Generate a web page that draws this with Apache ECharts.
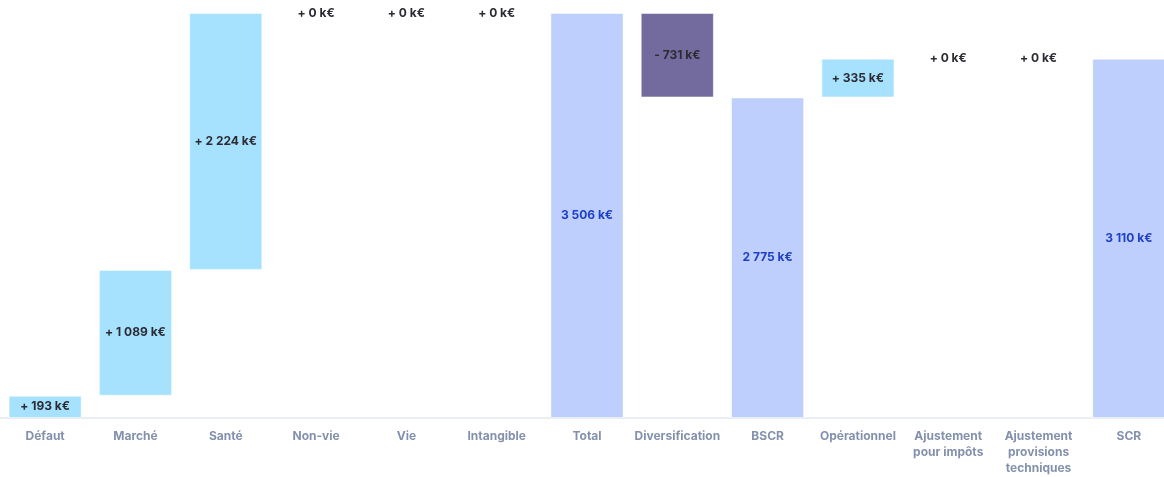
<!DOCTYPE html>
<html><head><meta charset="utf-8">
<script src="https://cdn.jsdelivr.net/npm/echarts@6/dist/echarts.min.js"></script>
<style>html,body{margin:0;padding:0;background:#fff;overflow:hidden}#c{width:1174px;height:477px}</style>
</head><body><div id="c"></div>
<script>
const categories = ['Défaut','Marché','Santé','Non-vie','Vie','Intangible','Total','Diversification','BSCR','Opérationnel','Ajustement\npour impôts','Ajustement\nprovisions\ntechniques','SCR'];
const values = [193, 1089, 2224, 0, 0, 0, 3506, -731, 2775, 335, 0, 0, 3110];
const kinds = ['inc','inc','inc','inc','inc','inc','total','inc','total','inc','inc','inc','total'];

function fmt(v){
  const s = Math.abs(v).toString().replace(/\B(?=(\d{3})+(?!\d))/g,' ');
  return s + ' k€';
}
const baseData = [], valData = [];
let running = 0;
values.forEach((v,i)=>{
  if (kinds[i]==='total'){ baseData.push(0); valData.push({value:v,kind:'total',raw:v}); running=v; }
  else if (v>=0){ baseData.push(running); valData.push({value:v,kind:'inc',raw:v}); running+=v; }
  else { running+=v; baseData.push(running); valData.push({value:-v,kind:'dec',raw:v}); }
});
const colors = {inc:'#A6E2FE', total:'#BECFFD', dec:'#736B9E'};
const chart = echarts.init(document.getElementById('c'));
chart.setOption({
  animation:false,
  grid:{left:0,right:0,top:13,bottom:59},
  xAxis:{type:'category',data:categories,
    axisLine:{lineStyle:{color:'#E3E8EF',width:1.5}},axisTick:{show:false},
    axisLabel:{color:'#8391AD',fontWeight:'bold',fontSize:12,fontFamily:'Inter',lineHeight:16,margin:10,interval:0}},
  yAxis:{type:'value',min:0,max:3506,show:false,splitLine:{show:false}},
  series:[
    {type:'bar',stack:'w',data:baseData,itemStyle:{color:'transparent'},barWidth:'81%',silent:true},
    {type:'bar',stack:'w',barWidth:'81%',
      data:valData.map(d=>({value:d.value,itemStyle:{color:colors[d.kind],borderColor:'rgba(255,255,255,0.5)',borderWidth:1},
        label:{show:true,position:'inside',fontFamily:'Inter',fontWeight:'bold',fontSize:12,
          color:d.kind==='total'?'#1E3FC4':'#2B2B33',
          formatter: d.kind==='total'? fmt(d.raw) : (d.raw<0?'- ':'+ ')+fmt(d.raw)}}))}
  ]
});
</script></body></html>
